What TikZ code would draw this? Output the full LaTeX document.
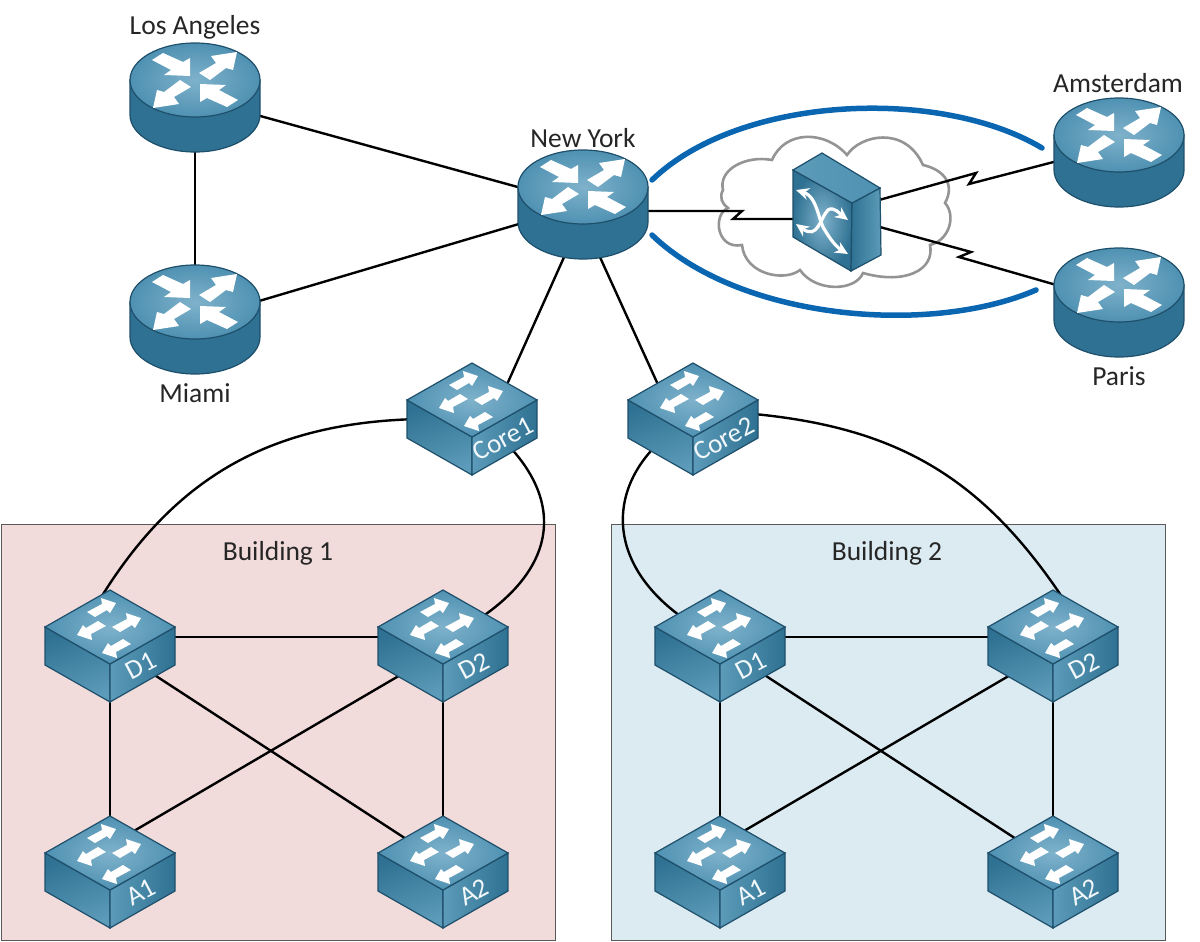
\documentclass[tikz,border=0pt]{standalone}
\usepackage{fontspec}
\setmainfont{Carlito}
\usepackage{xcolor}
\usepackage{tikz}
\usetikzlibrary{arrows.meta,positioning,calc}

\definecolor{iconedge}{HTML}{1E4F6B}
\definecolor{icondark}{HTML}{2F7192}
\definecolor{iconmid}{HTML}{5C9BB9}
\definecolor{icontop}{HTML}{4F91B2}
\definecolor{iconlight}{HTML}{7FB2CB}
\definecolor{pinkroom}{HTML}{F2DCDB}
\definecolor{blueroom}{HTML}{DCEBF2}
\definecolor{tunnel}{HTML}{0B66B2}

\tikzset{
    anchorbox/.style={rectangle, minimum width=130pt, minimum height=76pt, inner sep=0pt, outer sep=0pt},
    link/.style={draw=black, line width=2.4pt},
    cityname/.style={font=\fontsize{27.5}{32}\selectfont, text=black!85},
    room/.style={rectangle, draw=black!65, line width=0.9pt, minimum width=554pt, minimum height=416pt, anchor=north west},
    facelabel/.style={font=\fontsize{27}{32}\selectfont, text=white!90!iconlight, rotate=28},
    pics/routericon/.style={code={
        \draw[draw=iconedge, line width=1.2pt, left color=icondark, middle color=iconmid, right color=icondark]
            (-65,0) -- (-65,35) .. controls (-65,55) and (-36,72) .. (0,72)
            .. controls (36,72) and (65,55) .. (65,35) -- (65,0) -- cycle;
        \draw[draw=iconedge, line width=1.2pt, inner color=iconlight, outer color=icontop]
            (0,0) ellipse [x radius=65, y radius=37];
        \foreach \turn in {0,180} {
            \fill[white, rotate=\turn] (-43,-20) -- (-32,-27) -- (-12,-18) -- (-5,-22) -- (-5,-4) -- (-31,-5) -- (-24,-10) -- cycle;
            \fill[white, rotate=\turn] (4,-7) -- (21,-17) -- (16,-24) -- (42,-28) -- (38,-10) -- (31,-12) -- (15,0) -- cycle;
        }
    }},
    pics/switchicon/.style={code={
        \draw[draw=iconedge, line width=1.2pt, left color=icondark, right color=iconmid, shading angle=20]
            (-65,0) -- (0,37) -- (0,75) -- (-65,38) -- cycle;
        \draw[draw=iconedge, line width=1.2pt, left color=iconmid, right color=icondark]
            (65,0) -- (0,37) -- (0,75) -- (65,38) -- cycle;
        \draw[draw=iconedge, line width=1.2pt, inner color=iconlight, outer color=icontop]
            (0,-37) -- (65,0) -- (0,37) -- (-65,0) -- cycle;
        \foreach \tipx/\tipy/\turn in {6/-24/0, 31/-9/0, -33/8/180, -8/26/180} {
            \begin{scope}[shift={(\tipx,\tipy)}]
                \fill[white, rotate=\turn] (0,0) -- (-6,10) -- (-9,7) -- (-21,14) -- (-29,9) -- (-14,1) -- (-15,-5) -- cycle;
            \end{scope}
        }
        \node[facelabel] at (31,39) {#1};
    }}
}

\begin{document}
\begin{tikzpicture}[x=1pt, y=-1pt]
    \useasboundingbox (0,0) rectangle (1200,942);

    % buildings
    \node (room1) [room, fill=pinkroom] at (1,524) {};
    \node (room2) [room, fill=blueroom] at (611,524) {};
    \node (room1name) [cityname] at (278,553) {Building 1};
    \node (room2name) [cityname] at (887,553) {Building 2};

    % device positions
    \node (la) [anchorbox] at (195,98) {};
    \node (miami) [anchorbox] at (195,320) {};
    \node (ny) [anchorbox] at (583,205) {};
    \node (ams) [anchorbox] at (1119,153) {};
    \node (paris) [anchorbox] at (1119,303) {};
    \node (wan) [rectangle, minimum width=88pt, minimum height=118pt, inner sep=0pt] at (836,212) {};
    \node (core1) [anchorbox] at (472,419) {};
    \node (core2) [anchorbox] at (693,419) {};
    \node (b1d1) [anchorbox] at (110,646) {};
    \node (b1d2) [anchorbox] at (443,646) {};
    \node (b1a1) [anchorbox] at (110,863) {};
    \node (b1a2) [anchorbox] at (443,863) {};
    \node (b2d1) [anchorbox] at (720,646) {};
    \node (b2d2) [anchorbox] at (1053,646) {};
    \node (b2a1) [anchorbox] at (720,863) {};
    \node (b2a2) [anchorbox] at (1053,863) {};

    % cloud
    \draw[draw=black!42, fill=white, line width=2.6pt] (772,160)
        .. controls (745,155) and (718,170) .. (723,190)
        .. controls (719,197) and (722,204) .. (728,208)
        .. controls (712,215) and (717,250) .. (742,245)
        .. controls (745,275) and (785,282) .. (800,270)
        .. controls (815,292) and (855,292) .. (863,273)
        .. controls (905,285) and (935,270) .. (930,245)
        .. controls (950,240) and (956,215) .. (945,203)
        .. controls (955,185) and (945,170) .. (923,165)
        .. controls (905,125) and (860,135) .. (847,155)
        .. controls (825,130) and (785,130) .. (772,160) -- cycle;

    % links
    \draw[link] (la.center) -- (ny.center);
    \draw[link] (la.center) -- (miami.center);
    \draw[link] (miami.center) -- (ny.center);
    \draw[link] ([shift={(-18,50)}]ny.center) -- ([shift={(28,-19)}]core1.center);
    \draw[link] ([shift={(16,50)}]ny.center) -- ([shift={(-28,-19)}]core2.center);
    \draw[link] ([yshift=-6pt]ny.center) -- (742,211) -- (733,219) -- ([yshift=-7pt]wan.center);
    \draw[link] (wan.center) -- (976,173) -- (969,184) -- ([yshift=8pt]ams.center);
    \draw[link] ([yshift=-3pt]wan.center) -- (971,252) -- (959,257) -- (paris.center);

    \draw[link] ([xshift=-20pt]core1.center) .. controls (280,415) and (170,470) .. ([shift={(-25,-21)}]b1d1.center);
    \draw[link] ([shift={(30,20)}]core1.center) .. controls (565,500) and (560,570) .. ([shift={(25,-20)}]b1d2.center);
    \draw[link] ([shift={(-30,20)}]core2.center) .. controls (605,490) and (605,570) .. ([shift={(-25,-20)}]b2d1.center);
    \draw[link] ([xshift=20pt,yshift=8pt]core2.center) .. controls (890,420) and (985,470) .. ([shift={(27,-21)}]b2d2.center);

    \draw[link] ([yshift=9pt]b1d1.center) -- ([yshift=9pt]b1d2.center);
    \draw[link] (b1d1.center) -- (b1a1.center);
    \draw[link] (b1d2.center) -- (b1a2.center);
    \draw[link] (b1d1.center) -- (b1a2.center);
    \draw[link] ([yshift=-4pt]b1d2.center) -- ([yshift=18pt]b1a1.center);
    \draw[link] ([yshift=9pt]b2d1.center) -- ([yshift=9pt]b2d2.center);
    \draw[link] (b2d1.center) -- (b2a1.center);
    \draw[link] (b2d2.center) -- (b2a2.center);
    \draw[link] (b2d1.center) -- (b2a2.center);
    \draw[link] ([yshift=-4pt]b2d2.center) -- ([yshift=18pt]b2a1.center);

    % blue tunnels
    \coordinate (tunnelup) at (652,180);
    \coordinate (tunnelupend) at (1042,148);
    \coordinate (tunneldown) at (652,235);
    \coordinate (tunneldownend) at (1036,290);
    \draw[tunnel, line width=5.5pt, line cap=round] (tunnelup) .. controls (740,95) and (940,87) .. (tunnelupend);
    \draw[tunnel, line width=5.5pt, line cap=round] (tunneldown) .. controls (740,320) and (930,336) .. (tunneldownend);

    % device icons
    \pic at ([yshift=18pt]la.center) {routericon};
    \pic at ([yshift=18pt]miami.center) {routericon};
    \pic at ([yshift=18pt]ny.center) {routericon};
    \pic at ([yshift=18pt]ams.center) {routericon};
    \pic at ([yshift=18pt]paris.center) {routericon};
    \pic at ([yshift=19pt]core1.center) {switchicon={Core1}};
    \pic at ([yshift=19pt]core2.center) {switchicon={Core2}};
    \pic at ([yshift=19pt]b1d1.center) {switchicon={D1}};
    \pic at ([yshift=19pt]b1d2.center) {switchicon={D2}};
    \pic at ([yshift=10pt]b1a1.center) {switchicon={A1}};
    \pic at ([yshift=10pt]b1a2.center) {switchicon={A2}};
    \pic at ([yshift=19pt]b2d1.center) {switchicon={D1}};
    \pic at ([yshift=19pt]b2d2.center) {switchicon={D2}};
    \pic at ([yshift=10pt]b2a1.center) {switchicon={A1}};
    \pic at ([yshift=10pt]b2a2.center) {switchicon={A2}};

    % wan switch
    \draw[draw=iconedge, line width=1.2pt, inner color=iconlight, outer color=icondark] (793,170) -- (852,203) -- (851,271) -- (793,237) -- cycle;
    \draw[draw=iconedge, line width=1.2pt, left color=icondark, right color=iconmid] (852,203) -- (880,188) -- (881,255) -- (851,271) -- cycle;
    \draw[draw=iconedge, line width=1.2pt, left color=iconmid, right color=icontop] (793,170) -- (822,153) -- (880,188) -- (852,203) -- cycle;
    \draw[white, line width=3.2pt, {Stealth[length=13pt,width=12pt]}-{Stealth[length=13pt,width=12pt]}] (796,190) .. controls (818,197) and (818,222) .. (826,232) .. controls (832,242) and (838,248) .. (848,254);
    \draw[white, line width=3.2pt, {Stealth[length=13pt,width=12pt]}-{Stealth[length=13pt,width=12pt]}] (796,224) .. controls (818,240) and (820,218) .. (828,210) .. controls (834,206) and (840,214) .. (848,220);

    % names
    \node (laname) [cityname] at (195,27) {Los Angeles};
    \node (miaminame) [cityname] at (195,393) {Miami};
    \node (nyname) [cityname] at (583,138) {New York};
    \node (amsname) [cityname] at (1118,83) {Amsterdam};
    \node (parisname) [cityname] at (1119,376) {Paris};
\end{tikzpicture}
\end{document}
